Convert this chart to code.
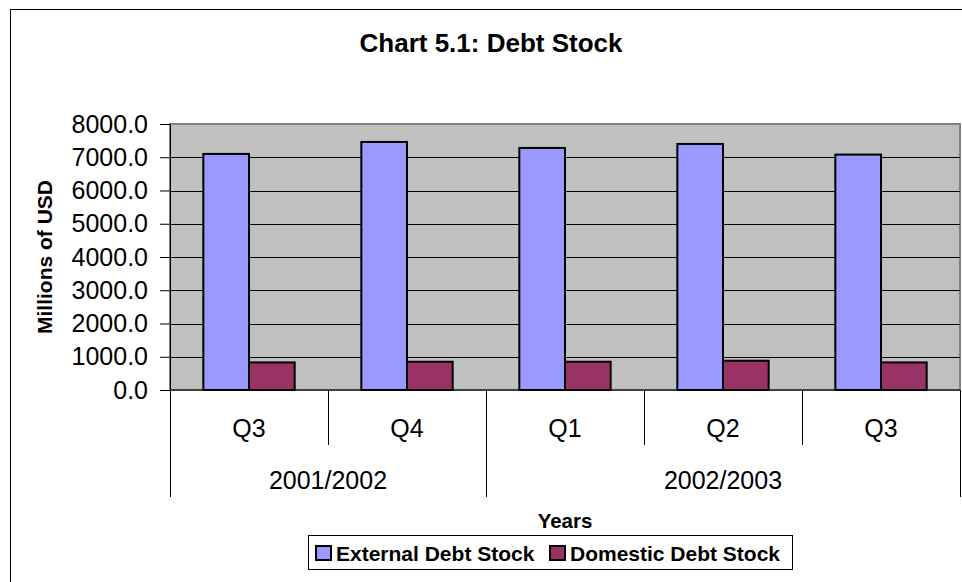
<!DOCTYPE html>
<html>
<head>
<meta charset="utf-8">
<script src="https://cdn.jsdelivr.net/npm/d3@7"></script>
<style>
  body { margin: 0; background: #fff; }
  svg { display: block; font-family: Arial, "Liberation Sans", sans-serif; }
</style>
</head>
<body>
<div id="chart"></div>
<script>
/* Chart 5.1 debt stock, clustered columns with two level category axis */

const quarters = ["Q3", "Q4", "Q1", "Q2", "Q3"];
const years = ["2001/2002", "2002/2003"];
const yearSpans = [2, 3]; // quarters in each year
const seriesNames = ["External Debt Stock", "Domestic Debt Stock"];
const external = [7100, 7460, 7280, 7400, 7080];
const domestic = [830, 850, 850, 880, 830];
const yTicks = [0, 1000, 2000, 3000, 4000, 5000, 6000, 7000, 8000];

function create_bar() {
  let width = 962,
    height = 582,
    plot = { left: 170, right: 960, top: 124, bottom: 390 };

  const color = {
    "External Debt Stock": "#9999ff",
    "Domestic Debt Stock": "#993366",
  };

  const svg = d3
    .select("#chart")
    .append("svg")
    .attr("width", width)
    .attr("height", height);

  // chart frame (runs off the right and bottom edges)
  svg
    .append("rect")
    .attr("x", 10.5)
    .attr("y", 9.5)
    .attr("width", 980)
    .attr("height", 600)
    .attr("fill", "#fff")
    .attr("stroke", "#000");

  svg
    .append("text")
    .attr("x", 491)
    .attr("y", 52)
    .attr("text-anchor", "middle")
    .attr("font-weight", "bold")
    .attr("font-size", 26)
    .text("Chart 5.1: Debt Stock");

  let x = d3
    .scaleBand()
    .domain(d3.range(quarters.length))
    .range([plot.left, plot.right]);

  let xs = d3
    .scaleBand()
    .domain(seriesNames)
    .range([0, x.bandwidth()])
    .paddingOuter(0.73);

  let y = d3
    .scaleLinear()
    .domain([0, 8000])
    .range([plot.bottom, plot.top]);

  // plot background
  svg
    .append("rect")
    .attr("x", plot.left)
    .attr("y", plot.top)
    .attr("width", plot.right - plot.left)
    .attr("height", plot.bottom - plot.top)
    .attr("fill", "#c0c0c0")
    .attr("stroke", "#808080")
    .attr("stroke-width", 2);

  // gridlines
  svg
    .append("g")
    .selectAll("line")
    .data(yTicks.filter((d) => d > 0 && d < 8000))
    .join("line")
    .attr("x1", plot.left)
    .attr("x2", plot.right)
    .attr("y1", (d) => Math.round(y(d)) + 0.5)
    .attr("y2", (d) => Math.round(y(d)) + 0.5)
    .attr("stroke", "#000");

  // y axis
  const yAxis = svg
    .append("g")
    .attr("transform", `translate(${plot.left},0)`)
    .call(
      d3
        .axisLeft(y)
        .tickValues(yTicks)
        .tickFormat(d3.format(".1f"))
        .tickSize(10)
        .tickPadding(12)
        .tickSizeOuter(0)
    );
  yAxis.select(".domain").attr("stroke", "#000");
  yAxis
    .selectAll("text")
    .attr("font-size", 25)
    .attr("font-family", "Arial, 'Liberation Sans', sans-serif")
    .attr("fill", "#000");

  svg
    .append("text")
    .attr("transform", `translate(52,${(plot.top + plot.bottom) / 2}) rotate(-90)`)
    .attr("text-anchor", "middle")
    .attr("font-weight", "bold")
    .attr("font-size", 21)
    .text("Millions of USD");

  // bars
  const rows = quarters.map((q, i) => ({ i, values: [external[i], domestic[i]] }));

  svg
    .append("g")
    .selectAll("g")
    .data(rows)
    .join("g")
    .attr("transform", (d) => `translate(${x(d.i)},0)`)
    .selectAll("rect")
    .data((d) => d.values.map((v, k) => ({ name: seriesNames[k], value: v })))
    .join("rect")
    .attr("x", (d) => xs(d.name))
    .attr("y", (d) => y(d.value))
    .attr("width", xs.bandwidth())
    .attr("height", (d) => y(0) - y(d.value))
    .attr("fill", (d) => color[d.name])
    .attr("stroke", "#000")
    .attr("stroke-width", 2);

  // x axis line
  svg
    .append("line")
    .attr("x1", plot.left)
    .attr("x2", plot.right)
    .attr("y1", plot.bottom)
    .attr("y2", plot.bottom)
    .attr("stroke", "#000");

  // quarter labels and separators
  const xAxis = svg.append("g");
  xAxis
    .selectAll("text")
    .data(quarters)
    .join("text")
    .attr("x", (d, i) => x(i) + x.bandwidth() / 2)
    .attr("y", 437)
    .attr("text-anchor", "middle")
    .attr("font-size", 25)
    .text((d) => d);

  // year labels, group boundaries
  let starts = [0];
  yearSpans.forEach((s, k) => starts.push(starts[k] + s));

  const boundaries = new Set(starts);
  xAxis
    .selectAll("line")
    .data(d3.range(quarters.length + 1))
    .join("line")
    .attr("x1", (i) => Math.round(x(i) ?? plot.right) + 0.5)
    .attr("x2", (i) => Math.round(x(i) ?? plot.right) + 0.5)
    .attr("y1", plot.bottom)
    .attr("y2", (i) => (boundaries.has(i) ? 497 : 445))
    .attr("stroke", "#000");

  xAxis
    .selectAll("text.year")
    .data(years)
    .join("text")
    .attr("class", "year")
    .attr("x", (d, k) => {
      let a = x(starts[k]);
      let b = starts[k + 1] < quarters.length ? x(starts[k + 1]) : plot.right;
      return (a + b) / 2;
    })
    .attr("y", 489)
    .attr("text-anchor", "middle")
    .attr("font-size", 25)
    .text((d) => d);

  svg
    .append("text")
    .attr("x", (plot.left + plot.right) / 2)
    .attr("y", 528)
    .attr("text-anchor", "middle")
    .attr("font-weight", "bold")
    .attr("font-size", 20.5)
    .text("Years");

  // legend
  const legend = svg.append("g");
  legend
    .append("rect")
    .attr("x", 308.5)
    .attr("y", 535.5)
    .attr("width", 484)
    .attr("height", 34)
    .attr("fill", "#fff")
    .attr("stroke", "#000");

  const legendX = [316, 550];
  seriesNames.forEach((name, k) => {
    legend
      .append("rect")
      .attr("x", legendX[k])
      .attr("y", 546)
      .attr("width", 15)
      .attr("height", 14)
      .attr("fill", color[name])
      .attr("stroke", "#000")
      .attr("stroke-width", 2);
    legend
      .append("text")
      .attr("x", legendX[k] + 20)
      .attr("y", 561)
      .attr("font-weight", "bold")
      .attr("font-size", 21)
      .text(name);
  });
}

create_bar();
</script>
</body>
</html>
